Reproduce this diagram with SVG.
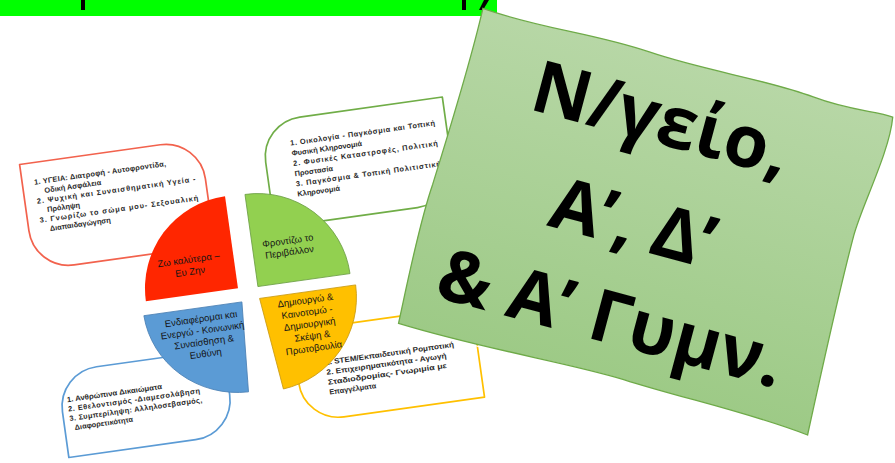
<svg xmlns="http://www.w3.org/2000/svg" width="895" height="463" viewBox="0 0 895 463">
  <defs>
    <linearGradient id="bannerGrad" x1="0" y1="0" x2="0" y2="1">
      <stop offset="0" stop-color="#b7d7a6"/>
      <stop offset="1" stop-color="#9dca86"/>
    </linearGradient>
  </defs>
  <style>
    .box{fill:#ffffff;stroke-width:1.7;stroke-linejoin:round}
    .bt{font-family:"Liberation Sans",Arial,sans-serif;font-size:7.4px;font-weight:bold;fill:#2a2a2a}
    .qt{font-family:"Liberation Sans",Arial,sans-serif;font-size:9.5px;fill:#151515;text-anchor:middle}
    .big{font-family:"Open Sans","Noto Sans",sans-serif;font-size:72px;font-weight:bold;fill:#000;text-anchor:middle}
  </style>

  <rect width="895" height="463" fill="#ffffff"/>

  <!-- top green bar -->
  <g id="topbar">
    <rect x="0" y="0" width="497" height="16" fill="#00ff00"/>
    <rect x="81" y="0" width="4" height="10" fill="#000"/>
    <rect x="462" y="0" width="4" height="10" fill="#000"/>
    <polygon points="484,0 489,0 483,10 479,10" fill="#000"/>
  </g>

  <!-- tilted diagram picture -->
  <g id="diagram" transform="translate(248,295) rotate(-8)">
    <g id="box-red">
      <path class="box" stroke="#f2624d" d="M-208,-161 H-66 A40,40 0 0 1 -26,-121 V-54 H-168 A40,40 0 0 1 -208,-94 Z"/>
      <text class="bt" x="-196" y="-139" textLength="133" lengthAdjust="spacing">1. ΥΓΕΙΑ: Διατροφή - Αυτοφροντίδα,</text>
      <text class="bt" x="-187" y="-129.4">Οδική Ασφάλεια</text>
      <text class="bt" x="-196" y="-119.8" textLength="160" lengthAdjust="spacing">2. Ψυχική και Συναισθηματική Υγεία -</text>
      <text class="bt" x="-187" y="-110.2">Πρόληψη</text>
      <text class="bt" x="-196" y="-100.6" textLength="160" lengthAdjust="spacing">3. Γνωρίζω το σώμα μου- Σεξουαλική</text>
      <text class="bt" x="-187" y="-91">Διαπαιδαγώγηση</text>
    </g>
    <g id="box-green">
      <path class="box" stroke="#70ad47" d="M76,-169 H220 V-103 A40,40 0 0 1 180,-63 H36 V-129 A40,40 0 0 1 76,-169 Z"/>
      <text class="bt" x="63" y="-142" textLength="146" lengthAdjust="spacing">1. Οικολογία - Παγκόσμια και Τοπική</text>
      <text class="bt" x="63" y="-131.7">Φυσική Κληρονομιά</text>
      <text class="bt" x="63" y="-121.4" textLength="146" lengthAdjust="spacing">2. Φυσικές Καταστροφές, Πολιτική</text>
      <text class="bt" x="63" y="-111.1">Προστασία</text>
      <text class="bt" x="63" y="-100.8" textLength="146" lengthAdjust="spacing">3. Παγκόσμια &amp; Τοπική Πολιτιστική</text>
      <text class="bt" x="63" y="-90.5">Κληρονομιά</text>
    </g>
    <g id="box-blue">
      <path class="box" stroke="#5b9bd5" d="M-160,50 H-32 V96 A40,40 0 0 1 -72,136 H-200 V90 A40,40 0 0 1 -160,50 Z"/>
      <text class="bt" x="-194" y="81" textLength="96" lengthAdjust="spacingAndGlyphs">1. Ανθρώπινα Δικαιώματα</text>
      <text class="bt" x="-194" y="90.5" textLength="133" lengthAdjust="spacing">2. Εθελοντισμός -Διαμεσολάβηση</text>
      <text class="bt" x="-194" y="100" textLength="134" lengthAdjust="spacing">3. Συμπερίληψη: Αλληλοσεβασμός,</text>
      <text class="bt" x="-190" y="109.5">Διαφορετικότητα</text>
    </g>
    <g id="box-yellow">
      <path class="box" stroke="#ffc000" d="M38,42 H180 A40,40 0 0 1 220,82 V134 H78 A40,40 0 0 1 38,94 Z"/>
      <text class="bt" x="67" y="80" textLength="130" lengthAdjust="spacingAndGlyphs">1. STEM/Εκπαιδευτική Ρομποτική</text>
      <text class="bt" x="67" y="90" textLength="121" lengthAdjust="spacingAndGlyphs">2. Επιχειρηματικότητα - Αγωγή</text>
      <text class="bt" x="67" y="100" textLength="120" lengthAdjust="spacingAndGlyphs">Σταδιοδρομίας- Γνωριμία με</text>
      <text class="bt" x="67" y="110">Επαγγέλματα</text>
    </g>

    <g id="q-red">
      <path fill="#ff2600" d="M-9,-8 V-101 A93,93 0 0 0 -102,-8 Z"/>
      <text class="qt" x="-54" y="-40">Ζω καλύτερα –</text>
      <text class="qt" x="-54" y="-28">Ευ Ζην</text>
    </g>
    <g id="q-green">
      <path fill="#92d050" stroke="#6b9e44" stroke-width="0.8" d="M11,-7 H104 A93,93 0 0 0 11,-100 Z"/>
      <text class="qt" x="47" y="-45">Φροντίζω το</text>
      <text class="qt" x="47" y="-33.5">Περιβάλλον</text>
    </g>
    <g id="q-blue">
      <path fill="#5b9bd5" stroke="#4a80b4" stroke-width="0.8" d="M-7,6 H-106 A96,92 0 0 0 -13,96 Z"/>
      <text class="qt" x="-50" y="20.3">Ενδιαφέρομαι και</text>
      <text class="qt" x="-50" y="32">Ενεργώ - Κοινωνική</text>
      <text class="qt" x="-50" y="43.7">Συναίσθηση &amp;</text>
      <text class="qt" x="-50" y="55.4">Ευθύνη</text>
    </g>
    <g id="q-yellow">
      <path fill="#ffc000" stroke="#c99a10" stroke-width="0.8" d="M11,5 H108 A94,94 0 0 1 22,98 Z"/>
      <text class="qt" x="56" y="16.5">Δημιουργώ &amp;</text>
      <text class="qt" x="56" y="28.6">Καινοτομώ -</text>
      <text class="qt" x="57" y="40.7">Δημιουργική</text>
      <text class="qt" x="58" y="52.8">Σκέψη &amp;</text>
      <text class="qt" x="58" y="64.9">Πρωτοβουλία</text>
    </g>
  </g>

  <!-- wavy green banner -->
  <g id="banner" transform="translate(645.5,220.75) rotate(15)">
    <path fill="none" stroke="#ffffff" stroke-width="1.2" transform="translate(1.5,1.8)" d="M-212,-163 C-150,-158 -100,-168 -40,-164 C20,-160 80,-168 130,-163 C170,-159 195,-166 212,-164 C218,-130 205,-70 205,-40 C205,0 208,80 212,165 C150,158 80,162 20,159 C-40,157 -120,166 -212,163 C-214,120 -218,60 -215,20 C-213,-30 -210,-110 -212,-163 Z"/>
    <path fill="url(#bannerGrad)" stroke="#6eaa48" stroke-width="1.3" d="M-212,-163 C-150,-158 -100,-168 -40,-164 C20,-160 80,-168 130,-163 C170,-159 195,-166 212,-164 C218,-130 205,-70 205,-40 C205,0 208,80 212,165 C150,158 80,162 20,159 C-40,157 -120,166 -212,163 C-214,120 -218,60 -215,20 C-213,-30 -210,-110 -212,-163 Z"/>
    <text class="big" x="-11" y="-77.6">Ν/γείο,</text>
    <text class="big" x="-11" y="30.2">Αʹ, Δʹ</text>
    <text class="big" x="-8" y="128">&amp; Αʹ Γυμν.</text>
  </g>
</svg>
